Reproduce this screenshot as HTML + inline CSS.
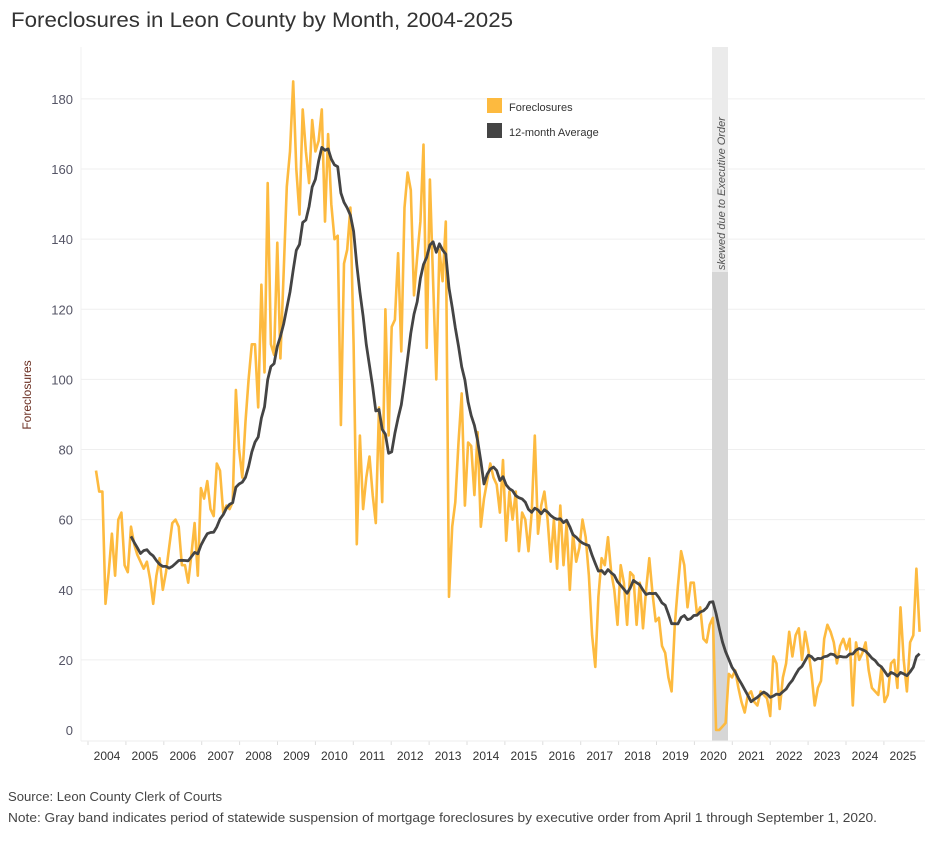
<!DOCTYPE html>
<html><head><meta charset="utf-8">
<style>
html,body{margin:0;padding:0;background:#fff;}
body{width:934px;height:838px;overflow:hidden;font-family:"Liberation Sans",sans-serif;}
</style></head>
<body>
<svg id="c" width="934" height="838" xmlns="http://www.w3.org/2000/svg" font-family="Liberation Sans, sans-serif">
<text x="11" y="27" font-size="21" fill="#333" textLength="502" lengthAdjust="spacingAndGlyphs">Foreclosures in Leon County by Month, 2004-2025</text>
<g id="grid"></g>
<rect x="712" y="47" width="16" height="225" fill="#ebebeb"/>
<rect x="712" y="272" width="16" height="469" fill="#d6d6d6"/>
<text transform="translate(725,270) rotate(-90)" font-size="11" fill="#555" font-style="italic">skewed due to Executive Order</text>
<line x1="81" y1="741" x2="925" y2="741" stroke="#eee"/>
<polyline id="raw" fill="none" stroke="#fdba3f" stroke-width="2.6" stroke-linejoin="round"/>
<polyline id="avg" fill="none" stroke="#444" stroke-width="2.8" stroke-linejoin="round"/>
<rect x="487" y="98" width="15" height="15" fill="#fdba3f"/>
<text x="509" y="111" font-size="11" fill="#333">Foreclosures</text>
<rect x="487" y="123" width="15" height="15" fill="#444"/>
<text x="509" y="136" font-size="11" fill="#333">12-month Average</text>
<text transform="translate(31,395) rotate(-90)" font-size="12" fill="#6b2f22" text-anchor="middle">Foreclosures</text>
<text x="8" y="801" font-size="13" fill="#444" textLength="214" lengthAdjust="spacingAndGlyphs">Source: Leon County Clerk of Courts</text>
<text x="8" y="822" font-size="13" fill="#444" textLength="869" lengthAdjust="spacingAndGlyphs">Note: Gray band indicates period of statewide suspension of mortgage foreclosures by executive order from April 1 through September 1, 2020.</text>
</svg>
<script>
var d=[74,68,68,36,45,56,44,60,62,47,45,58,
53,50,48,46,48,43,36,44,49,40,45,52,
59,60,58,47,47,42,50,59,44,69,66,71,
63,61,76,74,62,64,63,65,97,80,72,88,
100,110,110,92,127,102,156,110,107,139,106,130,
155,165,185,160,147,177,165,156,174,165,168,177,
145,170,150,140,141,87,133,137,149,110,53,84,
63,72,78,67,59,92,65,120,84,115,117,136,
108,149,159,154,124,135,145,167,109,157,128,100,
137,128,145,38,58,65,82,96,64,82,81,67,
85,58,66,71,76,72,70,62,77,54,68,60,
68,51,62,60,51,62,84,56,64,68,60,48,
60,46,64,47,59,40,56,48,52,60,55,44,
27,18,38,49,47,55,45,40,30,47,42,30,
45,44,30,42,29,40,49,39,31,32,24,22,
15,11,30,41,51,47,35,42,42,33,35,26,
25,30,32,0,0,1,2,16,15,17,12,8,
5,10,11,8,7,11,10,9,4,21,19,6,
15,19,28,21,27,29,20,28,23,16,7,12,
14,26,30,28,25,19,24,26,23,26,7,25,
20,22,25,17,12,11,10,18,8,10,19,20,
12,35,20,11,25,27,46,28];
var sx=3.18,x0=96;
function X(m){return x0+m*sx;}function Y(v){return 730-v*3.506;}
var p=[],a=[];
for(var i=0;i<d.length;i++){p.push(X(i).toFixed(1)+","+Y(d[i]).toFixed(1));
if(i>=11){var s=0;for(var j=i-11;j<=i;j++)s+=d[j];a.push(X(i).toFixed(1)+","+Y(s/12).toFixed(1));}}
document.getElementById("raw").setAttribute("points",p.join(" "));
document.getElementById("avg").setAttribute("points",a.join(" "));
var g="";
for(var v=0;v<=180;v+=20){var y=Y(v);
if(v>0)g+='<line x1="81" y1="'+y+'" x2="925" y2="'+y+'" stroke="#efefef"/>';
g+='<text x="73" y="'+(y+5)+'" font-size="13" fill="#556" text-anchor="end">'+v+'</text>';}
g+='<line x1="81" y1="47" x2="81" y2="741" stroke="#f0f0f0"/>';
for(var yr=2004;yr<=2025;yr++){var xc=107+(yr-2004)*37.9;
g+='<text x="'+xc+'" y="760" font-size="12" fill="#333" text-anchor="middle">'+yr+'</text>';
g+='<line x1="'+(xc-19)+'" y1="741" x2="'+(xc-19)+'" y2="745" stroke="#ddd"/>';}
document.getElementById("grid").innerHTML=g;
</script>
</body></html>
